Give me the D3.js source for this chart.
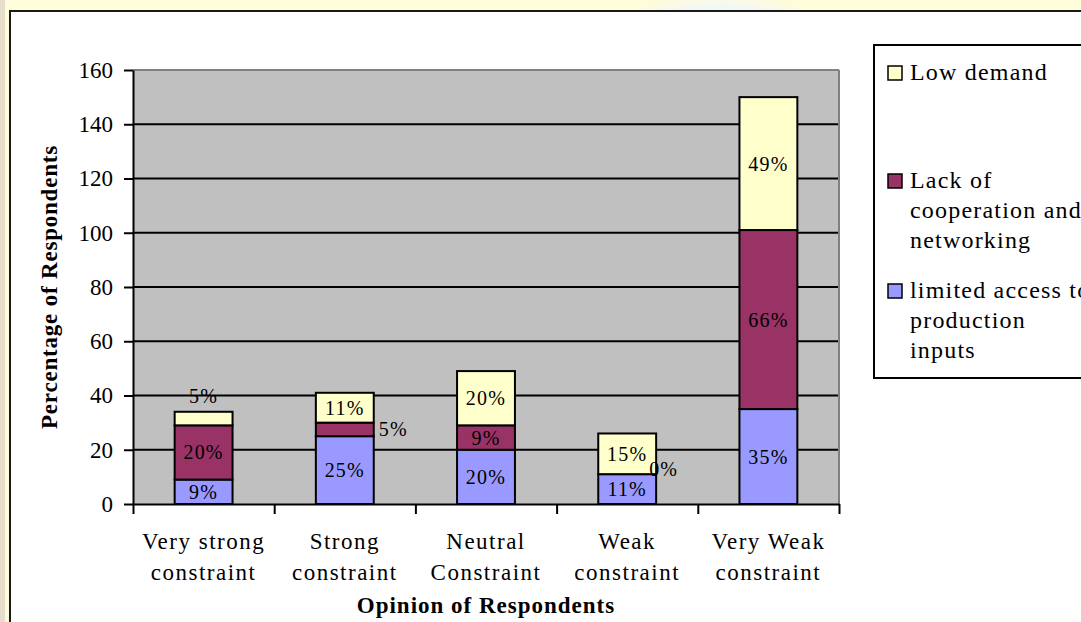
<!DOCTYPE html>
<html><head><meta charset="utf-8">
<script src="https://cdn.jsdelivr.net/npm/d3@7/dist/d3.min.js"></script>
<style>html,body{margin:0;padding:0;overflow:hidden;background:#fffcdc} svg text{font-family:"Liberation Serif";}</style>
</head><body><svg id="c" width="1081" height="622"></svg>
<script>
// ---- data ----
const categories = ["Very strong constraint","Strong constraint","Neutral Constraint","Weak constraint","Very Weak constraint"];
const categoryLines = [["Very strong","constraint"],["Strong","constraint"],["Neutral","Constraint"],["Weak","constraint"],["Very Weak","constraint"]];
const seriesNames = ["limited access to production inputs","Lack of cooperation and networking","Low demand"];
const limitedAccess = [9,25,20,11,35];
const lackCooperation = [20,5,9,0,66];
const lowDemand = [5,11,20,15,49];
const yTicks = [0,20,40,60,80,100,120,140,160];
const legendLines = [["limited access to","production","inputs"],["Lack of","cooperation and","networking"],["Low demand"]];
const xTitle = "Opinion of Respondents";
const yTitle = "Percentage of Respondents";

// ---- drawing ----
(function(){
const colors = ["#9999ff","#993366","#ffffcc"];
const FONT = '"Liberation Serif"';
const svg = d3.select("#c");
const W = 1081, H = 622;

// background
const defs = svg.append("defs");
const rg = defs.append("radialGradient").attr("id","glow").attr("cx","0.5").attr("cy","0.5").attr("r","0.5");
rg.append("stop").attr("offset","0").attr("stop-color","#eef6ff");
rg.append("stop").attr("offset","1").attr("stop-color","#fffcdc");
svg.append("rect").attr("x",0).attr("y",0).attr("width",W).attr("height",H).attr("fill","#fffcdc");
svg.append("ellipse").attr("cx",720).attr("cy",10).attr("rx",80).attr("ry",14).attr("fill","url(#glow)");
svg.append("rect").attr("x",0).attr("y",0).attr("width",5).attr("height",H).attr("fill","#e6ddca");
svg.append("rect").attr("x",10).attr("y",11).attr("width",W).attr("height",H).attr("fill","#ffffff");
svg.append("line").attr("x1",10).attr("x2",10).attr("y1",10).attr("y2",H).attr("stroke","#1a1a1a").attr("stroke-width",2);
svg.append("line").attr("x1",9).attr("x2",W).attr("y1",11).attr("y2",11).attr("stroke","#1a1a1a").attr("stroke-width",2);

const pL = 133, pR = 839, pT = 70, pB = 504;
const x = d3.scaleBand().domain(categories).range([pL,pR]).paddingInner(0.59).paddingOuter(0.295);
const y = d3.scaleLinear().domain([0,160]).range([pB,pT]);

// plot area
svg.append("rect").attr("x",pL).attr("y",pT).attr("width",pR-pL).attr("height",pB-pT).attr("fill","#c0c0c0");
svg.append("g").selectAll("line").data(yTicks.filter(t=>t>0 && t<160)).join("line")
  .attr("x1",pL).attr("x2",pR).attr("y1",d=>y(d)).attr("y2",d=>y(d))
  .attr("stroke","#000").attr("stroke-width",2);
svg.append("line").attr("x1",pL).attr("x2",pR).attr("y1",y(160)).attr("y2",y(160)).attr("stroke","#808080").attr("stroke-width",2);
svg.append("line").attr("x1",pR).attr("x2",pR).attr("y1",pT).attr("y2",pB).attr("stroke","#808080").attr("stroke-width",2);

// stacked bars
const rows = categories.map((c,i)=>({cat:c, s0:limitedAccess[i], s1:lackCooperation[i], s2:lowDemand[i]}));
const stack = d3.stack().keys(["s0","s1","s2"])(rows);
const bars = svg.append("g");
stack.forEach((layer,si)=>{
  bars.append("g").selectAll("rect").data(layer).join("rect")
    .attr("x",d=>x(d.data.cat)).attr("width",x.bandwidth())
    .attr("y",d=>y(d[1])).attr("height",d=>y(d[0])-y(d[1]))
    .attr("fill",colors[si]).attr("stroke","#000").attr("stroke-width",2);
});

// data labels
const placement = {"2-0":"above","1-1":"right","1-3":"right"};
const lbl = svg.append("g").style("font-family",FONT).style("font-size","20px").style("letter-spacing","1.2px").attr("fill","#000");
stack.forEach((layer,si)=>{
  layer.forEach((d,i)=>{
    const v = d[1]-d[0];
    const p = placement[si+"-"+i] || "center";
    let tx = x(d.data.cat)+x.bandwidth()/2, ty = (y(d[0])+y(d[1]))/2, anchor = "middle";
    if (p==="above") { ty = y(d[1]) - 16; }
    if (p==="right") { tx = x(d.data.cat)+x.bandwidth()+(v===0?-7:5); anchor="start"; if (v===0) ty -= 5; }
    lbl.append("text").attr("x",tx).attr("y",ty).attr("dy","0.35em").attr("text-anchor",anchor).text(v+"%");
  });
});

// axes
const ya = svg.append("g").attr("transform",`translate(${pL},0)`)
  .call(d3.axisLeft(y).tickValues(yTicks).tickSize(9).tickSizeOuter(0).tickPadding(11));
ya.select(".domain").attr("stroke","#000").attr("stroke-width",2);
ya.selectAll(".tick line").attr("stroke","#000").attr("stroke-width",2);
ya.selectAll(".tick text").style("font-family",FONT).style("font-size","23px").attr("fill","#000");

const xb = d3.scaleLinear().domain([0,categories.length]).range([pL,pR]);
const xa = svg.append("g").attr("transform",`translate(0,${pB})`)
  .call(d3.axisBottom(xb).ticks(categories.length).tickSize(10).tickSizeOuter(0).tickFormat(""));
xa.select(".domain").attr("stroke","#000").attr("stroke-width",2);
xa.selectAll(".tick line").attr("stroke","#000").attr("stroke-width",2);

// category labels
const cl = svg.append("g").style("font-family",FONT).style("font-size","23px").style("letter-spacing","1.5px").attr("fill","#000").attr("text-anchor","middle");
categories.forEach((c,i)=>{
  const t = cl.append("text").attr("x",x(c)+x.bandwidth()/2);
  categoryLines[i].forEach((ln,j)=>t.append("tspan").attr("x",x(c)+x.bandwidth()/2).attr("y",549+j*31).text(ln));
});

// titles
svg.append("text").attr("x",(pL+pR)/2).attr("y",613).attr("text-anchor","middle")
  .style("font-family",FONT).style("font-weight","bold").style("font-size","23px").style("letter-spacing","1px").text(xTitle);
svg.append("text").attr("transform",`translate(57,${(pT+pB)/2}) rotate(-90)`).attr("text-anchor","middle")
  .style("font-family",FONT).style("font-weight","bold").style("font-size","23px").style("letter-spacing","0.8px").text(yTitle);

// legend
const lg = svg.append("g");
lg.append("rect").attr("x",874).attr("y",45).attr("width",260).attr("height",333).attr("fill","#fff").attr("stroke","#000").attr("stroke-width",2);
const legendOrder = [2,1,0];
const legendBase = [80,188,298];
legendOrder.forEach((si,k)=>{
  const b = legendBase[k];
  lg.append("rect").attr("x",888).attr("y",b-14).attr("width",14).attr("height",14)
    .attr("fill",colors[si]).attr("stroke","#000").attr("stroke-width",1.5);
  const t = lg.append("text").style("font-family",FONT).style("font-size","24px").style("letter-spacing","1.2px").attr("fill","#000");
  legendLines[si].forEach((ln,j)=>t.append("tspan").attr("x",910).attr("y",b+j*30).text(ln));
});
})();
</script></body></html>
